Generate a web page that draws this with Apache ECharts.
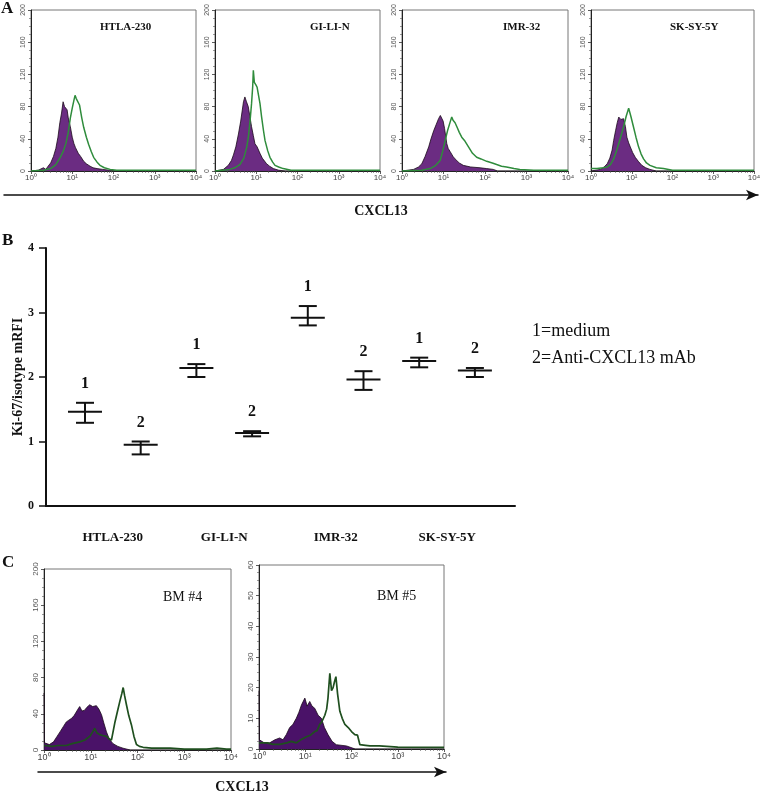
<!DOCTYPE html>
<html>
<head>
<meta charset="utf-8">
<script src="https://cdn.jsdelivr.net/npm/echarts@6/dist/echarts.min.js"></script>
<style>
html,body{margin:0;padding:0;background:#fff;}
#chart{width:763px;height:793px;}
</style>
</head>
<body>
<div id="chart"></div>
<script>
// ---------- Panel A: flow cytometry histograms [fluorescence, count] ----------
const htlaIso = [[1,0],[1.5,1],[2,4],[2.3,2],[2.6,6],[3,10],[3.5,18],[4,28],[4.5,42],[5,60],[5.5,72],[6,86],[6.5,80],[7,78],[7.5,76],[8,66],[9,55],[10,42],[11,34],[12,29],[14,22],[16,18],[19,12],[22,9],[27,6],[32,4],[40,3],[55,2],[80,1],[120,0],[10000,0]];
const htlaCx = [[1,0],[2,1],[3,3],[4,8],[5,16],[6,24],[7,34],[8,48],[9,66],[10,78],[11,88],[11.7,94],[12.5,90],[13.5,88],[15,82],[17,66],[19,54],[22,42],[25,33],[29,24],[33,17],[40,11],[47,7],[60,4],[83,2],[120,1],[500,1],[2000,1],[8000,1],[10000,1]];
const giIso = [[1,0],[1.6,2],[2.1,7],[2.5,13],[2.8,20],[3.2,30],[3.7,46],[4.2,62],[4.9,86],[5.3,92],[5.8,86],[6.4,80],[7,68],[7.7,55],[8.5,44],[9.3,34],[10.5,30],[12.3,22],[14,16],[17.8,9],[21,6],[26,3],[35,1],[50,0],[10000,0]];
const giCx = [[1,0],[2.3,2],[3,4],[4,8],[5,16],[5.9,30],[6.5,44],[7.1,63],[7.7,84],[8.2,105],[8.5,125],[9,110],[9.8,107],[10.5,104],[11.2,102],[12.3,84],[13.5,67],[15,50],[16.3,38],[19,25],[21.5,17],[25,11],[28.5,7],[35,5],[45,3],[70,1],[200,1],[1000,1],[10000,1]];
const imrIso = [[1,0],[1.9,2],[2.5,5],[3,9],[3.6,18],[4.4,30],[5,40],[5.8,50],[6.7,58],[7.6,65],[8.4,69],[9.1,71],[9.8,62],[10.6,53],[12,34],[13,28],[14.5,24],[17,18],[19,15],[24,10],[30,7],[45,5],[76,4],[110,3],[158,2],[200,0],[10000,0]];
const imrCx = [[1,0],[3,1],[4.8,3],[6.5,7],[8.3,13],[9.5,24],[11,38],[12.5,50],[14.5,61],[15.8,67],[17,63],[19,60],[21,55],[24,48],[27.5,42],[32,38],[40,30],[50,22],[63,17],[80,15],[110,12],[150,10],[191,8],[250,6],[330,5],[500,3],[690,2],[1500,1],[10000,1]];
const skIso = [[1,0],[1.7,2],[2.1,5],[2.5,9],[2.9,16],[3.3,26],[3.6,38],[4,50],[4.4,60],[4.8,67],[5.4,64],[6.3,65],[7,55],[7.6,42],[8.4,35],[9.2,30],[10.5,23],[12.2,17],[14.5,12],[17.7,7],[22,4],[28,2],[40,0],[10000,0]];
const skCx = [[1,3],[1.4,3],[2,4],[2.5,5],[3,8],[3.6,15],[4.3,26],[5.2,40],[6.3,55],[7.3,68],[8.4,78],[9.5,68],[11,55],[12.7,42],[14.7,30],[17,21],[19.5,15],[23,10],[28,7],[40,4],[60,3],[100,1],[1000,1],[10000,1]];
const cellLines = ['HTLA-230','GI-LI-N','IMR-32','SK-SY-5Y'];

// ---------- Panel B: Ki-67 / isotype mRFI ----------
const groups = ['HTLA-230','GI-LI-N','IMR-32','SK-SY-5Y'];
const positions = [1,2,3,4,5,6,7,8];
const condLabels = ['1','2','1','2','1','2','1','2'];
const meanVals = [1.46,0.95,2.14,1.13,2.92,1.96,2.25,2.10];
const upperVals = [1.60,1.00,2.20,1.16,3.10,2.09,2.30,2.14];
const lowerVals = [1.29,0.80,2.00,1.08,2.80,1.80,2.15,2.00];
const legendLines = ['1=medium','2=Anti-CXCL13 mAb'];
const yTicksB = [0,1,2,3,4];

// ---------- Panel C: bone marrow histograms ----------
const bm4Iso = [[1,63],[1.02,8],[1.3,6],[1.6,9],[1.9,15],[2.2,20],[2.6,26],[3,31],[3.4,33],[3.9,35],[4.4,38],[4.9,42],[5.3,45],[5.8,48],[6.5,43],[7.4,44],[8.2,47],[9.5,50],[11,48],[13.2,49],[15,45],[17,39],[19,30],[21.7,20],[25,12],[30,7],[38,4],[49,2],[70,0],[10000,0]];
const bm4Cx = [[1,5],[1.5,4],[2,5],[3,5],[4,7],[5.8,9],[7.5,11],[9.5,15],[11,20],[12.2,24],[13.5,19],[15.6,17],[18,16],[21.7,15],[25,12],[27.7,11],[30,20],[33,31],[37,42],[42,54],[46,62],[49.4,69],[53,60],[58,50],[65,38],[74,28],[84,15],[95,6],[110,4],[132,3],[200,2],[500,2],[1000,1],[3000,1],[5000,2],[8000,1],[10000,1]];
const bm5Iso = [[1,19],[1.02,3],[1.3,2],[1.7,2],[2.2,3],[2.8,3.6],[3.3,3],[3.9,4.7],[4.6,7],[5.4,8],[6.4,10],[7.3,12],[8.3,14.4],[9.8,16.6],[11,14],[12.5,15.5],[14,14],[16,13.3],[19,11],[22.4,10],[26,7],[31,4.7],[38,2.5],[47,1.4],[78,1],[120,0],[10000,0]];
const bm5Cx = [[1,2],[1.5,2],[2,1.5],[2.8,1.5],[4,2],[5,2.5],[6.4,2],[8,3],[10.6,4],[13,4.5],[16,5.7],[18,6],[20.5,8],[23,9],[26.5,11],[29,13],[31,16.6],[34,24.7],[37,19],[40,20],[43,22],[46,23.6],[50,18],[56,12.3],[63,10],[72,8],[85,7],[100,5.7],[118,4.7],[135,4.5],[152,1.4],[200,1.2],[250,1],[400,1],[1000,0.6],[10000,0.5]];
const bmLabels = ['BM #4','BM #5'];
const axisTitle = 'CXCL13';

const SERIF = '"Liberation Serif","Times New Roman",serif';
const SANS = '"Liberation Sans",Arial,sans-serif';
const sup = ['\u2070','\u00B9','\u00B2','\u00B3','\u2074'];

function histX(gi, fs) {
  return {
    gridIndex: gi, type: 'log', logBase: 10, min: 1, max: 10000,
    axisLine: {show: true, lineStyle: {color: '#222', width: 1}},
    axisTick: {show: true, length: 3, lineStyle: {color: '#333', width: 0.8}},
    minorTick: {show: true, splitNumber: 9, length: 2, lineStyle: {color: '#555', width: 0.6}},
    splitLine: {show: false}, minorSplitLine: {show: false},
    axisLabel: {show: true, margin: 3, fontSize: fs, color: '#444', fontFamily: SANS,
      showMinLabel: true, showMaxLabel: true,
      formatter: v => '10' + sup[Math.round(Math.log10(v))]}
  };
}
function histY(gi, max, interval, fs) {
  return {
    gridIndex: gi, type: 'value', min: 0, max: max, interval: interval,
    axisLine: {show: true, lineStyle: {color: '#222', width: 1}},
    axisTick: {show: true, length: 3, lineStyle: {color: '#333', width: 0.8}},
    minorTick: {show: true, splitNumber: 4, length: 2, lineStyle: {color: '#555', width: 0.6}},
    splitLine: {show: false}, minorSplitLine: {show: false},
    axisLabel: {rotate: 90, margin: 4, fontSize: fs, color: '#555', fontFamily: SANS,
      showMinLabel: true, showMaxLabel: true}
  };
}
function isoSeries(idx, data, fill) {
  return {type: 'line', xAxisIndex: idx, yAxisIndex: idx, data: data, showSymbol: false, symbol: 'none',
    lineStyle: {color: '#1a0a1a', width: 0.8}, areaStyle: {color: fill, opacity: 1}, z: 2, silent: true};
}
function cxSeries(idx, data, col, w) {
  return {type: 'line', xAxisIndex: idx, yAxisIndex: idx, data: data, showSymbol: false, symbol: 'none',
    lineStyle: {color: col, width: w}, z: 3, silent: true};
}
const gridBase = {containLabel: false, outerBoundsMode: 'none'};
const histGrid = Object.assign({show: true, borderColor: '#777', borderWidth: 1, backgroundColor: 'transparent'}, gridBase);

const grids = [
  Object.assign({left: 31, top: 10, width: 165, height: 161}, histGrid),
  Object.assign({left: 215, top: 10, width: 165, height: 161}, histGrid),
  Object.assign({left: 402, top: 10, width: 166, height: 161}, histGrid),
  Object.assign({left: 591, top: 10, width: 163, height: 161}, histGrid),
  Object.assign({left: 46, top: 248, width: 469, height: 258, show: false}, gridBase),
  Object.assign({left: 57, top: 248, width: 446, height: 258, show: false}, gridBase),
  Object.assign({left: 44, top: 569, width: 187, height: 181}, histGrid),
  Object.assign({left: 259, top: 565, width: 185, height: 184}, histGrid),
  Object.assign({left: 4, top: 150, width: 754, height: 45, show: false}, gridBase),
  Object.assign({left: 38, top: 730, width: 408, height: 42, show: false}, gridBase)
];

function arrowX(gi, gap) {
  return {gridIndex: gi, type: 'value', min: 0, max: 1,
    axisLine: {show: true, symbol: ['none', 'arrow'], symbolSize: [8, 12], lineStyle: {color: '#111', width: 1.5}},
    axisTick: {show: false}, axisLabel: {show: false}, splitLine: {show: false},
    name: axisTitle, nameLocation: 'middle', nameGap: gap,
    nameTextStyle: {fontFamily: SERIF, fontWeight: 'bold', fontSize: 14, color: '#111'}};
}
function hiddenY(gi) { return {gridIndex: gi, type: 'value', min: 0, max: 1, show: false}; }

const xAxes = [
  histX(0, 8), histX(1, 8), histX(2, 8), histX(3, 8),
  {gridIndex: 4, type: 'value', min: 0.3, max: 8.72,
    axisLine: {show: true, lineStyle: {color: '#111', width: 2}}, axisTick: {show: false},
    axisLabel: {show: false}, splitLine: {show: false}},
  {gridIndex: 5, type: 'category', data: groups, boundaryGap: true,
    axisLine: {show: false}, axisTick: {show: false}, splitLine: {show: false},
    axisLabel: {margin: 25, fontFamily: SERIF, fontWeight: 'bold', fontSize: 13, color: '#111', interval: 0}},
  histX(6, 9), histX(7, 9),
  arrowX(8, 9), arrowX(9, 8)
];
const yAxes = [
  histY(0, 200, 40, 7), histY(1, 200, 40, 7), histY(2, 200, 40, 7), histY(3, 200, 40, 7),
  {gridIndex: 4, type: 'value', min: yTicksB[0], max: yTicksB[yTicksB.length - 1], interval: 1,
    axisLine: {show: true, lineStyle: {color: '#111', width: 2}},
    axisTick: {show: true, length: 7, lineStyle: {color: '#111', width: 1.5}},
    splitLine: {show: false},
    axisLabel: {margin: 12, fontFamily: SERIF, fontWeight: 'bold', fontSize: 12, color: '#111'},
    name: 'Ki-67/isotype mRFI', nameLocation: 'middle', nameGap: 21, nameMoveOverlap: false,
    nameTextStyle: {fontFamily: SERIF, fontWeight: 'bold', fontSize: 14, color: '#111'}},
  hiddenY(5),
  histY(6, 200, 40, 8), histY(7, 60, 10, 8),
  hiddenY(8), hiddenY(9)
];

const purpleA = '#6b2c82', greenA = '#2f8c3c';
const purpleC = '#4a1268', greenC = '#1f4f1f';

const errData = positions.map((p, i) => [p, meanVals[i], upperVals[i], lowerVals[i]]);

const series = [
  isoSeries(0, htlaIso, purpleA), cxSeries(0, htlaCx, greenA, 1.5),
  isoSeries(1, giIso, purpleA), cxSeries(1, giCx, greenA, 1.5),
  isoSeries(2, imrIso, purpleA), cxSeries(2, imrCx, greenA, 1.5),
  isoSeries(3, skIso, purpleA), cxSeries(3, skCx, greenA, 1.5),
  isoSeries(6, bm4Iso, purpleC), cxSeries(6, bm4Cx, greenC, 1.7),
  isoSeries(7, bm5Iso, purpleC), cxSeries(7, bm5Cx, greenC, 1.7),
  {
    type: 'custom', xAxisIndex: 4, yAxisIndex: 4, data: errData, silent: true, z: 5,
    renderItem: function (params, api) {
      const x = api.value(0);
      const pm = api.coord([x, api.value(1)]);
      const ph = api.coord([x, api.value(2)]);
      const pl = api.coord([x, api.value(3)]);
      const st = {stroke: '#111', lineWidth: 2};
      return {type: 'group', children: [
        {type: 'line', shape: {x1: pm[0] - 17, y1: pm[1], x2: pm[0] + 17, y2: pm[1]}, style: st},
        {type: 'line', shape: {x1: ph[0], y1: ph[1], x2: pl[0], y2: pl[1]}, style: st},
        {type: 'line', shape: {x1: ph[0] - 9, y1: ph[1], x2: ph[0] + 9, y2: ph[1]}, style: st},
        {type: 'line', shape: {x1: pl[0] - 9, y1: pl[1], x2: pl[0] + 9, y2: pl[1]}, style: st},
        {type: 'text', style: {text: condLabels[params.dataIndex], x: ph[0], y: ph[1] - 19,
          align: 'center', verticalAlign: 'middle', textAlign: 'center', textVerticalAlign: 'middle',
          font: 'bold 16px ' + SERIF, fill: '#111'}}
      ]};
    }
  }
];

function t(text, left, top, size, bold) {
  return {text: text, left: left, top: top, padding: 0,
    textStyle: {fontFamily: SERIF, fontSize: size, fontWeight: bold ? 'bold' : 'normal', color: '#111'}};
}
const titles = [
  t('A', 1, 0, 17, true), t('B', 2, 232, 17, true), t('C', 2, 554, 17, true),
  t(cellLines[0], 100, 22, 11, true), t(cellLines[1], 310, 22, 11, true),
  t(cellLines[2], 503, 22, 11, true), t(cellLines[3], 670, 22, 11, true),
  t(legendLines[0], 532, 322, 18, false), t(legendLines[1], 532, 349, 18, false),
  t(bmLabels[0], 163, 590, 14, false), t(bmLabels[1], 377, 589, 14, false)
];

const chart = echarts.init(document.getElementById('chart'), null, {renderer: 'canvas'});
chart.setOption({
  animation: false,
  backgroundColor: '#fff',
  title: titles,
  grid: grids,
  xAxis: xAxes,
  yAxis: yAxes,
  series: series
});
</script>
</body>
</html>
